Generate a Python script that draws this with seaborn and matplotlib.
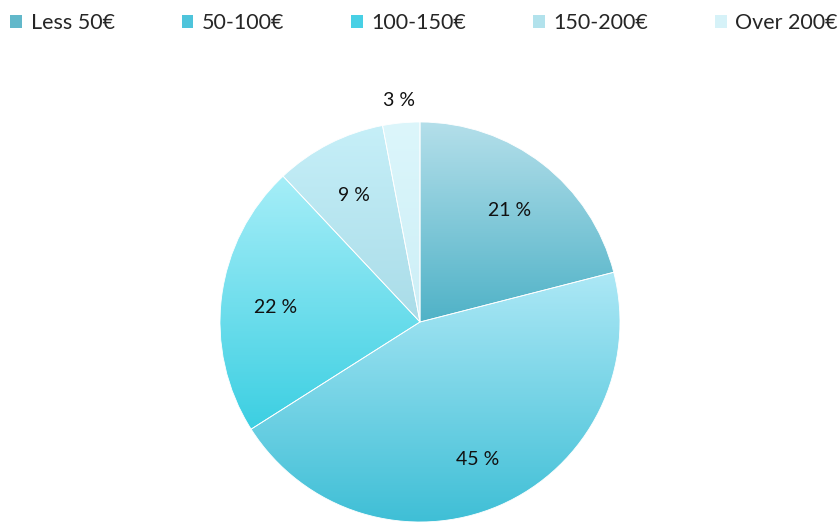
import numpy as np
import matplotlib
matplotlib.use("Agg")
import matplotlib.pyplot as plt
import seaborn as sns
from matplotlib.patches import Patch

sns.set_theme(style="white")
plt.rcParams['font.family'] = ['Lato', 'DejaVu Sans']

# data
categories = ['Less 50€', '50-100€', '100-150€', '150-200€', 'Over 200€']
shares = [21, 45, 22, 9, 3]
# gradient colours per slice: top -> bottom
top_colors = ['#b4dfea', '#ade8f6', '#a6eef8', '#c6eff8', '#dcf6fb']
bottom_colors = ['#4fb2c7', '#3fbfd6', '#3ccfe2', '#a9dce8', '#cdeff7']
legend_colors = ['#62b8ca', '#4ec4db', '#48d0e5', '#b2e2ec', '#d6f2f8']

fig = plt.figure(figsize=(8.4, 5.23), dpi=100)
ax = fig.add_axes([220 / 840, 1 / 523, 400 / 840, 400 / 523])

wedges, _ = ax.pie(shares, startangle=90, counterclock=False, radius=1,
                   wedgeprops=dict(edgecolor='white', linewidth=0.6))
ax.set_aspect('equal')
ax.axis('off')

grad = np.linspace(0, 1, 256).reshape(-1, 1)
for w, c0, c1, val in zip(wedges, top_colors, bottom_colors, shares):
    ext = w.get_path().get_extents(w.get_patch_transform())
    cmap = sns.blend_palette([c0, c1], as_cmap=True)
    im = ax.imshow(grad, cmap=cmap, aspect='auto', origin='upper',
                   extent=[ext.x0, ext.x1, ext.y0, ext.y1], zorder=1)
    im.set_clip_path(w)
    w.set_facecolor('none')
    w.set_zorder(2)
    # label, small slice goes outside
    mid = np.deg2rad((w.theta1 + w.theta2) / 2)
    dist = 1.11 if val < 5 else 0.73
    ax.text(dist * np.cos(mid), dist * np.sin(mid) - (0 if val < 5 else 0.02), f'{val} %',
            ha='center', va='center', fontsize=14, color='#111111', zorder=3,
            clip_on=False)

ax.set_xlim(-1, 1)
ax.set_ylim(-1, 1)

handles = [Patch(facecolor=c, edgecolor='none') for c in legend_colors]
fig.legend(handles, categories, loc='upper center', bbox_to_anchor=(0.505, 1.012),
           ncol=5, frameon=False, fontsize=15.5, handlelength=0.55, handleheight=0.55,
           handletextpad=0.4, columnspacing=3.1)

fig.savefig('out.png', dpi=100)
